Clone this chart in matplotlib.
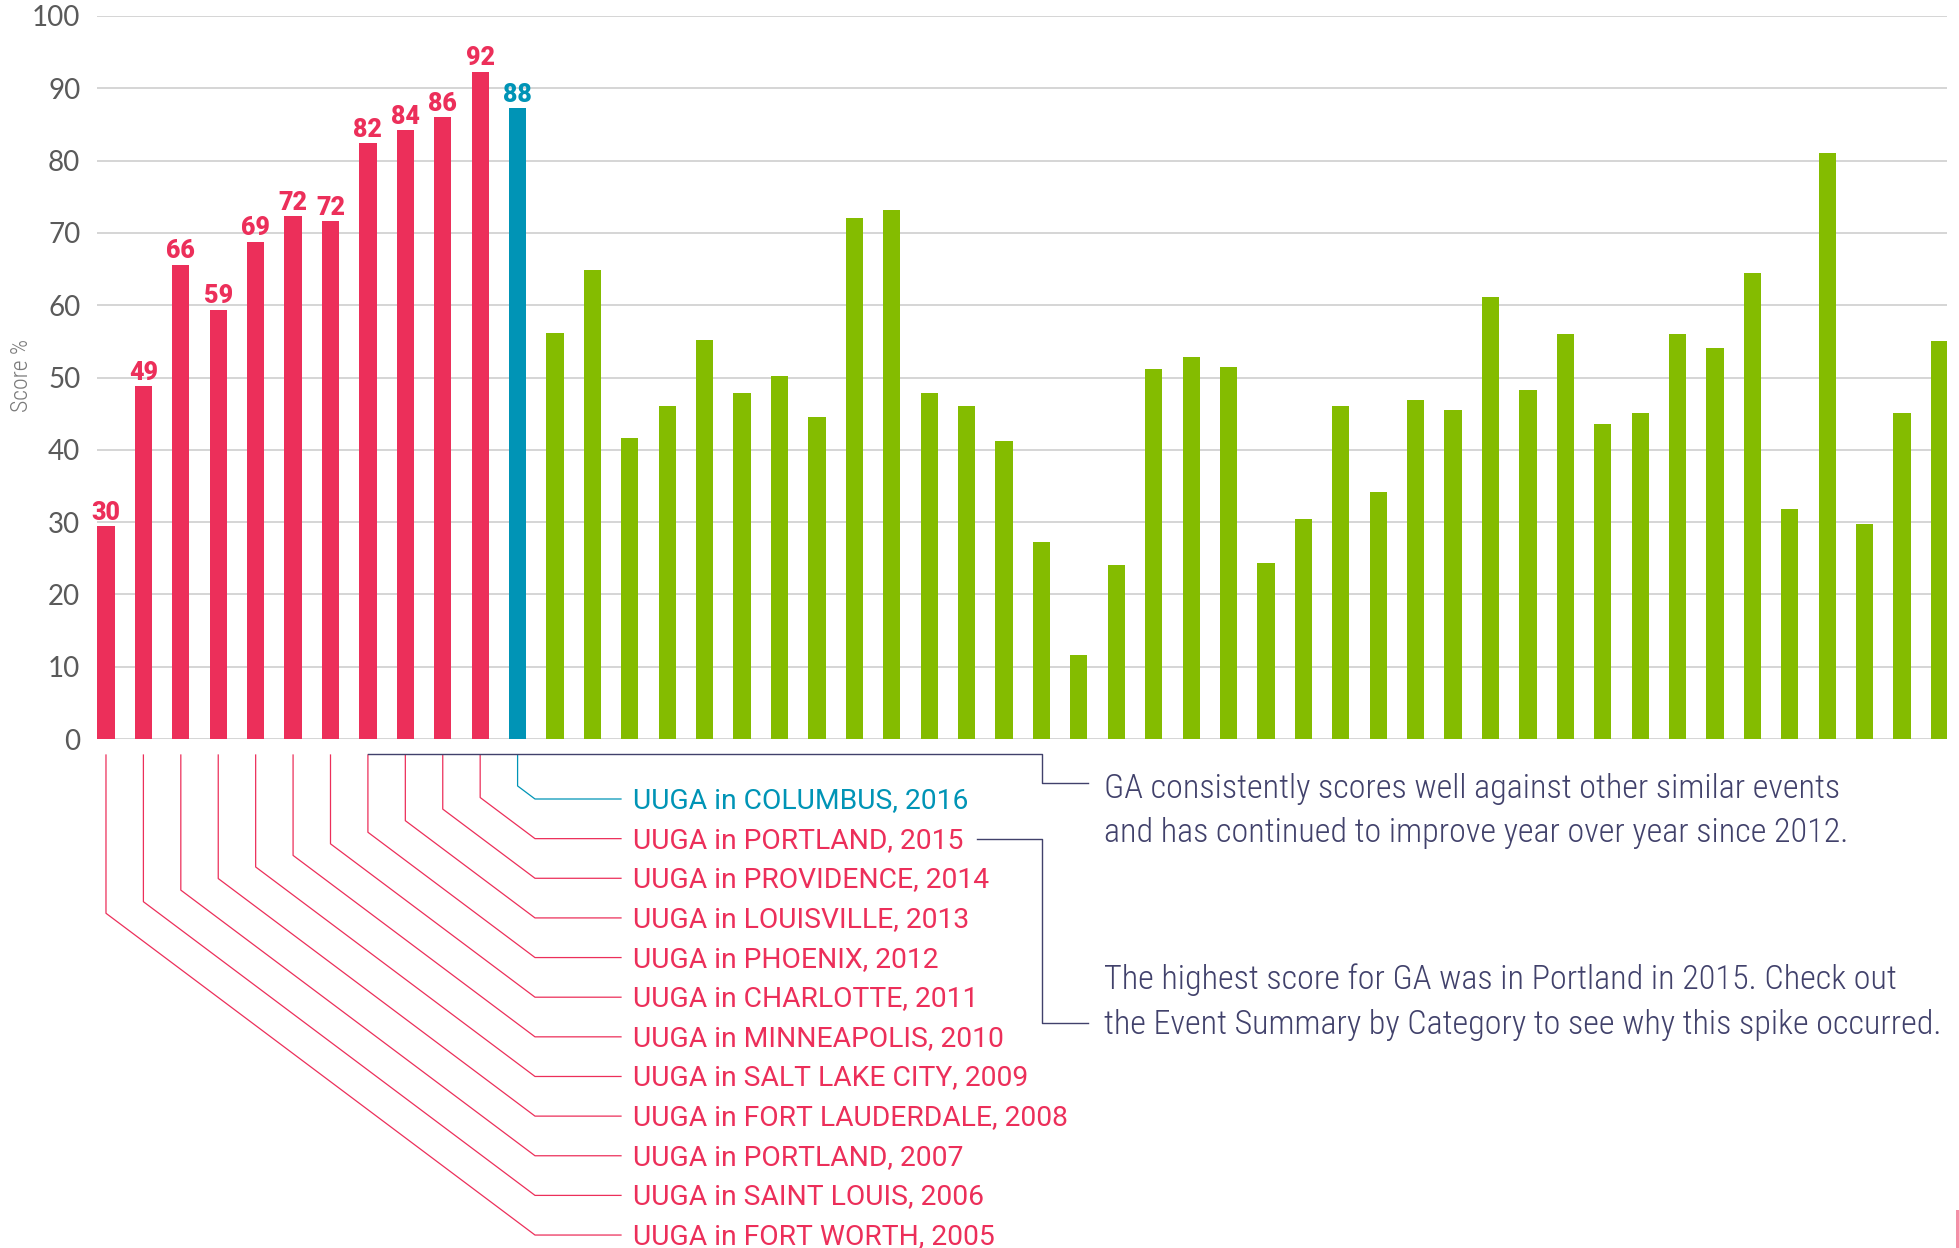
import numpy as np
import matplotlib.pyplot as plt
from matplotlib import font_manager
from matplotlib.patches import Rectangle

W, H = 1959, 1248

# data
past_events = ['UUGA in FORT WORTH, 2005', 'UUGA in SAINT LOUIS, 2006', 'UUGA in PORTLAND, 2007',
               'UUGA in FORT LAUDERDALE, 2008', 'UUGA in SALT LAKE CITY, 2009', 'UUGA in MINNEAPOLIS, 2010',
               'UUGA in CHARLOTTE, 2011', 'UUGA in PHOENIX, 2012', 'UUGA in LOUISVILLE, 2013',
               'UUGA in PROVIDENCE, 2014', 'UUGA in PORTLAND, 2015']
past_scores = [29.4, 48.8, 65.6, 59.4, 68.8, 72.3, 71.6, 82.4, 84.2, 86.0, 92.3]
past_labels = ['30', '49', '66', '59', '69', '72', '72', '82', '84', '86', '92']
current_event = 'UUGA in COLUMBUS, 2016'
current_score = 87.3
current_label = '88'
other_scores = [56.2, 64.9, 41.7, 46.0, 55.2, 47.8, 50.2, 44.6, 72.1, 73.2, 47.9, 46.0, 41.2,
                27.3, 11.6, 24.0, 51.2, 52.8, 51.4, 24.4, 30.4, 46.0, 34.1, 46.9, 45.5, 61.2,
                48.3, 56.0, 43.5, 45.1, 56.0, 54.1, 64.4, 31.8, 81.1, 29.8, 45.1, 55.0]
note_1 = ['GA consistently scores well against other similar events',
          'and has continued to improve year over year since 2012.']
note_2 = ['The highest score for GA was in Portland in 2015. Check out',
          'the Event Summary by Category to see why this spike occurred.']

RED, BLUE, GREEN = '#EC2F5A', '#0094B6', '#84BC00'
NAVY = '#41416B'

# pick a condensed face if there is one
names = {f.name for f in font_manager.fontManager.ttflist}
cond = next((n for n in ['Roboto Condensed', 'Liberation Sans Narrow', 'DejaVu Sans Condensed',
                         'Open Sans Condensed'] if n in names), 'Roboto')

scores = past_scores + [current_score] + other_scores
labels = past_labels + [current_label]
colors = [RED] * len(past_scores) + [BLUE] + [GREEN] * len(other_scores)
n = len(scores)
x = np.arange(n)

fig = plt.figure(figsize=(W / 100, H / 100), dpi=100)
ax = fig.add_axes([97 / W, 1 - 739 / H, 1850 / W, 723 / H])
ax.bar(x, scores, width=0.46, color=colors, zorder=3)
ax.set_xlim(-0.24, n - 1 + 0.2)
ax.set_ylim(0, 100)
ax.set_yticks(range(0, 101, 10))
ax.set_xticks([])
ax.grid(axis='y', color='#d2d2d2', lw=1.3, zorder=0)
for s in ax.spines.values():
    s.set_visible(False)
ax.tick_params(axis='y', length=0, pad=12, labelsize=20, labelcolor='#5a5a5a')
for t in ax.get_yticklabels():
    t.set_family('Lato')

for i, lab in enumerate(labels):
    ax.annotate(lab, (i, scores[i]), xytext=(0, 4.5), textcoords='offset points',
                ha='center', va='baseline', fontsize=18, fontweight='black',
                color=colors[i], family='Roboto', zorder=4)

fig.text(22 / W, 1 - 375 / H, 'Score %', rotation=90, ha='center', va='center',
         fontsize=17, color='#7a7a7a', family=cond, fontweight='light')

# overlay in pixel coordinates (y down) for the leader lines
ov = fig.add_axes([0, 0, 1, 1])
ov.set_xlim(0, W)
ov.set_ylim(H, 0)
ov.axis('off')

fig.canvas.draw()
bar_px = [ax.transData.transform((i, 0))[0] for i in range(len(labels))]

events = past_events + [current_event]
row_y0, row_step = 799, 39.64
x_turn, x_end, text_x, y_top = 535, 621, 633, 755
texts = []
for i in range(len(labels)):
    k = len(labels) - 1 - i
    ry = row_y0 + k * row_step
    bx = bar_px[i]
    ys = ry - 0.75 * (x_turn - bx)
    ov.plot([bx, bx, x_turn, x_end], [y_top, ys, ry, ry], color=colors[i], lw=0.9)
    t = ov.text(text_x, ry + 9, events[i], color=colors[i], fontsize=18, family='Roboto',
                va='baseline', ha='left')
    texts.append(t)

note_texts = []
for j, line in enumerate(note_1):
    note_texts.append(ov.text(1104, 798 + j * 44, line, color=NAVY, fontsize=23,
                              family=cond, fontweight='light', va='baseline'))
for j, line in enumerate(note_2):
    note_texts.append(ov.text(1104, 989 + j * 45, line, color=NAVY, fontsize=23,
                              family=cond, fontweight='light', va='baseline'))

# scale the texts so their widths match the original
r = fig.canvas.get_renderer()
w = texts[-1].get_window_extent(r).width
for t in texts:
    t.set_fontsize(t.get_fontsize() * 336 / w)
w = note_texts[-1].get_window_extent(r).width
for t in note_texts:
    t.set_fontsize(t.get_fontsize() * 840 / w)

fig.canvas.draw()
portland_end = texts[len(past_events) - 1].get_window_extent(r).x1 + 14

ov.plot([bar_px[7], 1042, 1042, 1088], [754, 754, 783, 783], color=NAVY, lw=1.0)
ov.plot([portland_end, 1042, 1042, 1088], [839, 839, 1023, 1023], color=NAVY, lw=1.0)

# sliver of a page element at the bottom-right edge
ov.add_patch(Rectangle((1956, 1210), 4, 40, color='#F590A8', lw=0))

fig.savefig('out.png', dpi=100, facecolor='white')
